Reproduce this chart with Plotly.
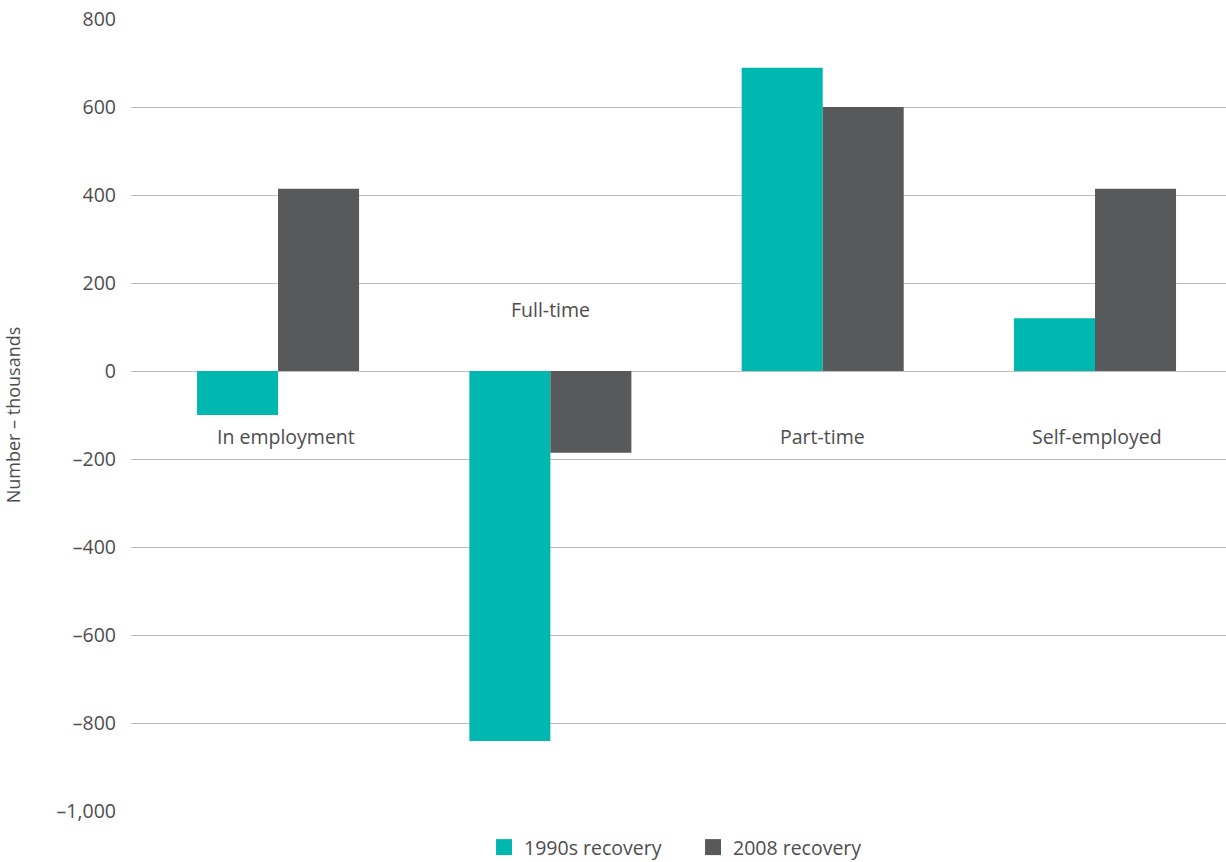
import plotly.graph_objects as go

categories = ["In employment", "Full-time", "Part-time", "Self-employed"]
recovery_1990s = [-100, -841, 689, 120]
recovery_2008 = [414, -186, 600, 414]
series_names = ["1990s recovery", "2008 recovery"]
series_colors = ["#00b8b0", "#58595b"]
label_y = [-148, 139, -148, -148]
label_xshift = [8, 0, 0, 2]
tick_vals = [-1000, -800, -600, -400, -200, 0, 200, 400, 600, 800]
tick_text = ["\u20131,000", "\u2013800", "\u2013600", "\u2013400", "\u2013200", "0", "200", "400", "600", "800"]

FONT = "Open Sans"
TXT = "#4d4d4f"

fig = go.Figure()
for vals, name, col in zip([recovery_1990s, recovery_2008], series_names, series_colors):
    fig.add_trace(go.Bar(x=categories, y=vals, name=name, showlegend=False,
                         marker=dict(color=col, line=dict(width=0))))
# legend entries with larger square swatches
for name, col in zip(series_names, series_colors):
    fig.add_trace(go.Scatter(x=[None], y=[None], mode="markers", name=name,
                             marker=dict(symbol="square", size=18, color=col)))

for c, yv, xs in zip(categories, label_y, label_xshift):
    fig.add_annotation(x=c, y=yv, text=c, showarrow=False, xshift=xs,
                       font=dict(family=FONT, size=19.5, color=TXT))

fig.update_layout(
    width=1226, height=862,
    margin=dict(l=131, r=0, t=19, b=51, autoexpand=False),
    paper_bgcolor="white", plot_bgcolor="white",
    barmode="group", bargap=0.405, bargroupgap=0,
    font=dict(family=FONT, size=19.5, color=TXT),
    showlegend=True,
    legend=dict(orientation="h", x=0.3224, xanchor="left", y=-0.046, yanchor="middle",
                font=dict(family=FONT, size=19.5, color=TXT), itemwidth=30,
                entrywidth=164, entrywidthmode="pixels",
                traceorder="normal", tracegroupgap=0),
    xaxis=dict(showticklabels=False, showgrid=False, zeroline=False, showline=False,
               ticks="", range=[-0.54, 3.481]),
    yaxis=dict(range=[-1000, 800], tickvals=tick_vals, ticktext=tick_text,
               showgrid=True, gridcolor="#bcbec0", gridwidth=1.3,
               zeroline=True, zerolinecolor="#bcbec0", zerolinewidth=1.3,
               showline=False, ticks="", ticklabelstandoff=14,
               tickfont=dict(family=FONT, size=19.5, color=TXT),
               title=dict(text="Number \u2013 thousands", standoff=31,
                          font=dict(family=FONT, size=18, color=TXT))),
)

fig.write_html("out.html")
